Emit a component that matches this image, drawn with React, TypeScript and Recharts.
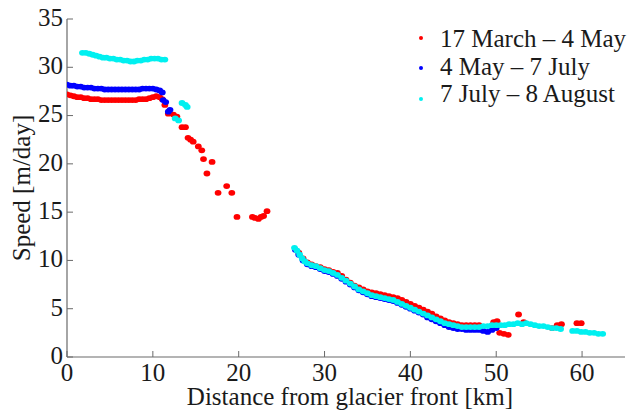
import React from 'react';
import { ScatterChart, Scatter, XAxis, YAxis } from 'recharts';

type P = { x: number; y: number };

const xTicks = [0, 10, 20, 30, 40, 50, 60];
const yTicks = [0, 5, 10, 15, 20, 25, 30, 35];
const seriesNames = ['17 March – 4 May', '4 May – 7 July', '7 July – 8 August'];
const seriesColors = ['#ff0000', '#0000ff', '#00f0f0'];

const marchMay: P[] = [
  { x: 0, y: 27.2 }, { x: 0.4, y: 27.1 }, { x: 0.8, y: 27.0 }, { x: 1.2, y: 26.9 }, { x: 1.6, y: 26.9 },
  { x: 2.0, y: 26.8 }, { x: 2.4, y: 26.8 }, { x: 2.8, y: 26.7 }, { x: 3.2, y: 26.7 }, { x: 3.6, y: 26.7 },
  { x: 4.0, y: 26.6 }, { x: 4.4, y: 26.6 }, { x: 4.8, y: 26.6 }, { x: 5.2, y: 26.6 }, { x: 5.6, y: 26.6 },
  { x: 6.0, y: 26.6 }, { x: 6.4, y: 26.6 }, { x: 6.8, y: 26.6 }, { x: 7.2, y: 26.6 }, { x: 7.6, y: 26.6 },
  { x: 8.0, y: 26.6 }, { x: 8.4, y: 26.7 }, { x: 8.8, y: 26.7 }, { x: 9.2, y: 26.7 }, { x: 9.6, y: 26.8 },
  { x: 10.0, y: 26.9 }, { x: 10.4, y: 27.0 }, { x: 10.8, y: 26.9 }, { x: 11.1, y: 26.7 },
  { x: 11.4, y: 26.1 }, { x: 11.8, y: 25.2 }, { x: 12.4, y: 25.1 }, { x: 12.8, y: 24.9 },
  { x: 13.4, y: 23.8 }, { x: 13.8, y: 23.8 }, { x: 14.1, y: 22.7 }, { x: 14.4, y: 22.5 }, { x: 14.7, y: 22.3 },
  { x: 15.3, y: 21.8 }, { x: 15.7, y: 21.4 }, { x: 15.9, y: 20.5 }, { x: 16.9, y: 20.2 }, { x: 16.3, y: 19.0 },
  { x: 18.6, y: 17.7 }, { x: 17.6, y: 17.0 }, { x: 19.2, y: 17.0 },
  { x: 19.8, y: 14.5 }, { x: 21.6, y: 14.5 }, { x: 21.9, y: 14.4 }, { x: 22.3, y: 14.3 }, { x: 22.6, y: 14.5 },
  { x: 22.9, y: 14.6 }, { x: 23.3, y: 15.1 },
  { x: 27.0, y: 10.8 }, { x: 27.5, y: 10.2 }, { x: 28.0, y: 9.8 }, { x: 28.5, y: 9.6 }, { x: 29.0, y: 9.4 },
  { x: 29.5, y: 9.3 }, { x: 30.0, y: 9.1 }, { x: 30.5, y: 9.0 }, { x: 31.0, y: 8.8 }, { x: 31.5, y: 8.7 },
  { x: 32.0, y: 8.4 }, { x: 32.5, y: 8.0 }, { x: 33.0, y: 7.7 }, { x: 33.5, y: 7.4 }, { x: 34.0, y: 7.2 },
  { x: 34.5, y: 7.0 }, { x: 35.0, y: 6.8 }, { x: 35.5, y: 6.7 }, { x: 36.0, y: 6.6 }, { x: 36.5, y: 6.5 },
  { x: 37.0, y: 6.4 }, { x: 37.5, y: 6.3 }, { x: 38.0, y: 6.2 }, { x: 38.5, y: 6.1 }, { x: 39.0, y: 5.9 },
  { x: 39.5, y: 5.7 }, { x: 40.0, y: 5.5 }, { x: 40.5, y: 5.3 }, { x: 41.0, y: 5.1 }, { x: 41.5, y: 4.9 },
  { x: 42.0, y: 4.7 }, { x: 42.5, y: 4.5 }, { x: 43.0, y: 4.2 }, { x: 43.5, y: 4.0 }, { x: 44.0, y: 3.8 },
  { x: 44.5, y: 3.6 }, { x: 45.0, y: 3.5 }, { x: 45.5, y: 3.4 }, { x: 46.0, y: 3.3 }, { x: 46.5, y: 3.3 },
  { x: 47.0, y: 3.3 }, { x: 47.5, y: 3.3 }, { x: 48.0, y: 3.3 }, { x: 49.7, y: 3.6 }, { x: 50.1, y: 3.7 },
  { x: 50.4, y: 2.5 }, { x: 50.9, y: 2.4 }, { x: 51.4, y: 2.3 }, { x: 52.6, y: 4.4 }, { x: 53.2, y: 3.6 },
  { x: 56.5, y: 3.0 }, { x: 57.1, y: 3.3 }, { x: 57.6, y: 3.4 }, { x: 59.4, y: 3.5 }, { x: 59.9, y: 3.5 },
];

const mayJuly: P[] = [
  { x: 0, y: 28.2 }, { x: 0.4, y: 28.1 }, { x: 0.8, y: 28.1 }, { x: 1.2, y: 28.0 }, { x: 1.6, y: 28.0 },
  { x: 2.0, y: 27.9 }, { x: 2.4, y: 27.9 }, { x: 2.8, y: 27.9 }, { x: 3.2, y: 27.8 }, { x: 3.6, y: 27.8 },
  { x: 4.0, y: 27.8 }, { x: 4.4, y: 27.7 }, { x: 4.8, y: 27.7 }, { x: 5.2, y: 27.7 }, { x: 5.6, y: 27.7 },
  { x: 6.0, y: 27.7 }, { x: 6.4, y: 27.7 }, { x: 6.8, y: 27.7 }, { x: 7.2, y: 27.7 }, { x: 7.6, y: 27.7 },
  { x: 8.0, y: 27.7 }, { x: 8.4, y: 27.7 }, { x: 8.8, y: 27.8 }, { x: 9.2, y: 27.8 }, { x: 9.6, y: 27.8 },
  { x: 10.0, y: 27.8 }, { x: 10.4, y: 27.7 }, { x: 10.8, y: 27.6 }, { x: 11.1, y: 27.4 },
  { x: 11.2, y: 26.6 }, { x: 11.5, y: 26.4 }, { x: 11.8, y: 25.4 }, { x: 12.0, y: 25.6 },
  { x: 26.6, y: 11.1 }, { x: 27.0, y: 10.6 }, { x: 27.5, y: 10.0 }, { x: 28.0, y: 9.6 }, { x: 28.5, y: 9.4 },
  { x: 29.0, y: 9.3 }, { x: 29.5, y: 9.1 }, { x: 30.0, y: 8.9 }, { x: 30.5, y: 8.8 }, { x: 31.0, y: 8.6 },
  { x: 31.5, y: 8.4 }, { x: 32.0, y: 8.1 }, { x: 32.5, y: 7.8 }, { x: 33.0, y: 7.5 }, { x: 33.5, y: 7.2 },
  { x: 34.0, y: 6.9 }, { x: 34.5, y: 6.7 }, { x: 35.0, y: 6.5 }, { x: 35.5, y: 6.3 }, { x: 36.0, y: 6.2 },
  { x: 36.5, y: 6.1 }, { x: 37.0, y: 6.0 }, { x: 37.5, y: 5.9 }, { x: 38.0, y: 5.8 }, { x: 38.5, y: 5.6 },
  { x: 39.0, y: 5.4 }, { x: 39.5, y: 5.2 }, { x: 40.0, y: 5.0 }, { x: 40.5, y: 4.8 }, { x: 41.0, y: 4.6 },
  { x: 41.5, y: 4.4 }, { x: 42.0, y: 4.1 }, { x: 42.5, y: 3.9 }, { x: 43.0, y: 3.7 }, { x: 43.5, y: 3.5 },
  { x: 44.0, y: 3.3 }, { x: 44.5, y: 3.1 }, { x: 45.0, y: 3.0 }, { x: 45.5, y: 2.9 }, { x: 46.0, y: 2.9 },
  { x: 46.5, y: 2.8 }, { x: 47.0, y: 2.8 }, { x: 47.5, y: 2.8 }, { x: 48.0, y: 2.8 }, { x: 48.5, y: 2.7 },
  { x: 49.0, y: 2.6 }, { x: 49.5, y: 2.8 }, { x: 50.0, y: 3.0 },
];

const julyAugust: P[] = [
  { x: 1.8, y: 31.5 }, { x: 2.2, y: 31.5 }, { x: 2.6, y: 31.4 }, { x: 3.0, y: 31.3 }, { x: 3.4, y: 31.2 },
  { x: 3.8, y: 31.1 }, { x: 4.2, y: 31.0 }, { x: 4.6, y: 31.0 }, { x: 5.0, y: 30.9 }, { x: 5.4, y: 30.9 },
  { x: 5.8, y: 30.8 }, { x: 6.2, y: 30.8 }, { x: 6.6, y: 30.7 }, { x: 7.0, y: 30.7 }, { x: 7.4, y: 30.6 },
  { x: 7.8, y: 30.6 }, { x: 8.2, y: 30.7 }, { x: 8.6, y: 30.7 }, { x: 9.0, y: 30.8 }, { x: 9.4, y: 30.8 },
  { x: 9.8, y: 30.9 }, { x: 10.2, y: 30.9 }, { x: 10.6, y: 30.9 }, { x: 11.0, y: 30.8 }, { x: 11.4, y: 30.8 },
  { x: 12.6, y: 24.7 }, { x: 13.0, y: 24.5 }, { x: 13.4, y: 26.3 }, { x: 13.8, y: 26.1 }, { x: 14.0, y: 25.9 },
  { x: 26.5, y: 11.3 }, { x: 26.8, y: 11.0 }, { x: 27.1, y: 10.6 }, { x: 27.4, y: 10.2 }, { x: 27.7, y: 9.9 },
  { x: 28.0, y: 9.7 }, { x: 28.5, y: 9.5 }, { x: 29.0, y: 9.4 }, { x: 29.5, y: 9.2 }, { x: 30.0, y: 9.0 },
  { x: 30.5, y: 8.9 }, { x: 31.0, y: 8.7 }, { x: 31.5, y: 8.5 }, { x: 32.0, y: 8.2 }, { x: 32.5, y: 7.9 },
  { x: 33.0, y: 7.6 }, { x: 33.5, y: 7.3 }, { x: 34.0, y: 7.0 }, { x: 34.5, y: 6.8 }, { x: 35.0, y: 6.6 },
  { x: 35.5, y: 6.4 }, { x: 36.0, y: 6.3 }, { x: 36.5, y: 6.2 }, { x: 37.0, y: 6.1 }, { x: 37.5, y: 6.0 },
  { x: 38.0, y: 5.9 }, { x: 38.5, y: 5.7 }, { x: 39.0, y: 5.5 }, { x: 39.5, y: 5.3 }, { x: 40.0, y: 5.1 },
  { x: 40.5, y: 4.9 }, { x: 41.0, y: 4.7 }, { x: 41.5, y: 4.5 }, { x: 42.0, y: 4.3 }, { x: 42.5, y: 4.1 },
  { x: 43.0, y: 3.9 }, { x: 43.5, y: 3.7 }, { x: 44.0, y: 3.5 }, { x: 44.5, y: 3.4 }, { x: 45.0, y: 3.3 },
  { x: 45.5, y: 3.2 }, { x: 46.0, y: 3.1 }, { x: 46.5, y: 3.1 }, { x: 47.0, y: 3.1 }, { x: 47.5, y: 3.1 },
  { x: 48.0, y: 3.1 }, { x: 48.5, y: 3.2 }, { x: 49.0, y: 3.2 }, { x: 49.5, y: 3.3 }, { x: 50.0, y: 3.3 },
  { x: 50.5, y: 3.3 }, { x: 51.0, y: 3.3 }, { x: 51.5, y: 3.4 }, { x: 52.0, y: 3.4 }, { x: 52.5, y: 3.5 },
  { x: 53.0, y: 3.4 }, { x: 53.5, y: 3.5 }, { x: 54.0, y: 3.4 }, { x: 54.5, y: 3.3 }, { x: 55.0, y: 3.2 },
  { x: 55.5, y: 3.2 }, { x: 56.0, y: 3.1 }, { x: 56.5, y: 3.0 }, { x: 57.0, y: 3.0 }, { x: 57.5, y: 2.9 },
  { x: 58.9, y: 2.7 }, { x: 59.4, y: 2.7 }, { x: 59.9, y: 2.6 }, { x: 60.4, y: 2.6 }, { x: 60.9, y: 2.5 },
  { x: 61.4, y: 2.5 }, { x: 61.9, y: 2.4 }, { x: 62.4, y: 2.4 },
];

const FONT = '"Liberation Serif", "Times New Roman", serif';
const TEXT = '#1a1a1a';
const AXIS = '#6a6a6a';
const FS = 25;

const dot = (color: string) => (props: any) => {
  const { cx, cy } = props;
  if (cx == null || cy == null) return <g />;
  return <ellipse cx={cx} cy={cy} rx={3.4} ry={2.9} fill={color} />;
};

const YLabel = (props: any) => {
  const vb = props.viewBox || { x: 0, y: 19, width: 67, height: 338 };
  const x = vb.x + 30;
  const y = vb.y + vb.height / 2;
  return (
    <text x={x} y={y} transform={`rotate(-90, ${x}, ${y})`} textAnchor="middle" fill={TEXT} fontSize={FS} fontFamily={FONT}>
      Speed [m/day]
    </text>
  );
};

export default function App() {
  const series = [marchMay, mayJuly, julyAugust];
  const legendBaselines = [47, 75, 102];
  const legendDots = [38, 68, 99];
  return (
    <div style={{ position: 'absolute', left: 0, top: 0, width: 628, height: 410, background: '#fff' }}>
      <ScatterChart width={628} height={410} margin={{ top: 19, right: 3, bottom: 0, left: 0 }}>
        <XAxis
          type="number"
          dataKey="x"
          domain={[0, 65]}
          ticks={xTicks}
          allowDataOverflow
          height={53}
          tickSize={-6}
          tickMargin={12}
          axisLine={{ stroke: AXIS, strokeWidth: 1.2 }}
          tickLine={{ stroke: AXIS }}
          tick={{ fill: TEXT, fontSize: FS, fontFamily: FONT }}
          label={{ value: 'Distance from glacier front [km]', position: 'insideBottom', offset: 5, dx: 4, fill: TEXT, fontSize: FS, fontFamily: FONT }}
        />
        <YAxis
          type="number"
          dataKey="y"
          domain={[0, 35]}
          ticks={yTicks}
          allowDataOverflow
          width={67}
          tickSize={-6}
          tickMargin={10}
          axisLine={{ stroke: AXIS, strokeWidth: 1.2 }}
          tickLine={{ stroke: AXIS }}
          tick={{ fill: TEXT, fontSize: FS, fontFamily: FONT, dy: -2 }}
          label={<YLabel />}
        />
        {series.map((d, i) => (
          <Scatter key={i} name={seriesNames[i]} data={d} fill={seriesColors[i]} shape={dot(seriesColors[i])} isAnimationActive={false} />
        ))}
      </ScatterChart>
      <svg width={628} height={410} style={{ position: 'absolute', left: 0, top: 0, pointerEvents: 'none' }}>
        {seriesNames.map((n, i) => (
          <g key={n}>
            <circle cx={421} cy={legendDots[i]} r={2} fill={seriesColors[i]} />
            <text x={440} y={legendBaselines[i]} fill={TEXT} fontSize={FS} fontFamily={FONT}>{n}</text>
          </g>
        ))}
      </svg>
    </div>
  );
}
